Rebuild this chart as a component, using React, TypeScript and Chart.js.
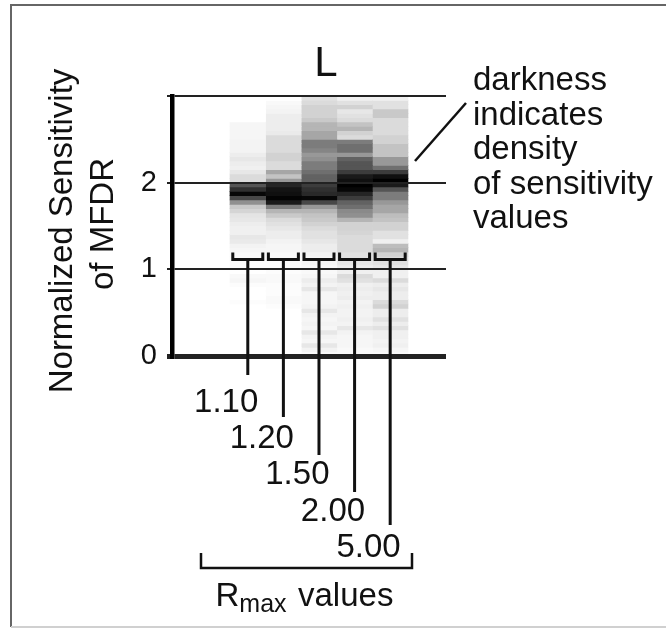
import React, { useEffect, useRef } from 'react';
import { Chart, registerables } from 'chart.js';

Chart.register(...registerables);

// ---------- data ----------
const rmaxLabels = ['1.10', '1.20', '1.50', '2.00', '5.00'];
const binStep = 0.05; // sensitivity bin height (bins from 0 to 3)
const yTickValues = [0, 1, 2, 3];
const annotationLines = ['darkness', 'indicates', 'density', 'of sensitivity', 'values'];

// darkness (0 = white, 1 = black) per bin, bin 0 = [0, 0.05] ... bin 59 = [2.95, 3.00]
const density110 = [
  0, 0, 0, 0, 0, 0, 0, 0, 0, 0,
  0, 0, 0.01, 0, 0, 0, 0.01, 0.03, 0.02, 0,
  0.01, 0.01, 0.02, 0.02, 0.03, 0.04, 0.07, 0.08, 0.05, 0.05,
  0.06, 0.08, 0.09, 0.14, 0.18, 0.38, 0.65, 0.95, 0.75, 0.6,
  0.12, 0.12, 0.08, 0.05, 0.06, 0.08, 0.06, 0.04, 0.04, 0.04,
  0.03, 0.03, 0.03, 0.03, 0, 0, 0, 0, 0, 0,
];
const density120 = [
  0, 0, 0, 0, 0, 0, 0, 0, 0, 0,
  0, 0.01, 0.02, 0.02, 0.01, 0.01, 0.01, 0.02, 0.02, 0.01,
  0.01, 0.01, 0.02, 0.02, 0.03, 0.03, 0.04, 0.06, 0.06, 0.08,
  0.1, 0.12, 0.18, 0.25, 0.45, 0.85, 0.97, 0.9, 0.88, 0.8,
  0.35, 0.2, 0.3, 0.12, 0.12, 0.15, 0.15, 0.12, 0.12, 0.12,
  0.12, 0.07, 0.06, 0.06, 0.06, 0.06, 0.04, 0.03, 0.02, 0,
];
const density150 = [
  0.02, 0.04, 0.08, 0.03, 0.04, 0.08, 0.03, 0.04, 0.03, 0.04,
  0.08, 0.04, 0.03, 0.03, 0.03, 0.08, 0.04, 0.06, 0.03, 0.02,
  0.02, 0.03, 0.03, 0.04, 0.06, 0.06, 0.08, 0.1, 0.1, 0.12,
  0.15, 0.18, 0.2, 0.25, 0.35, 0.65, 0.95, 0.78, 0.75, 0.7,
  0.55, 0.55, 0.5, 0.45, 0.45, 0.38, 0.35, 0.42, 0.45, 0.45,
  0.3, 0.3, 0.25, 0.25, 0.18, 0.15, 0.15, 0.15, 0.12, 0.1,
];
const density200 = [
  0.02, 0.02, 0.03, 0.03, 0.03, 0.04, 0.08, 0.04, 0.05, 0.04,
  0.04, 0.05, 0.04, 0.06, 0.05, 0.06, 0.05, 0.1, 0.12, 0.05,
  0.06, 0.08, 0.1, 0.1, 0.12, 0.12, 0.12, 0.12, 0.14, 0.15,
  0.15, 0.25, 0.38, 0.4, 0.5, 0.55, 0.7, 0.8, 0.95, 1.0,
  0.9, 0.85, 0.7, 0.6, 0.6, 0.55, 0.35, 0.5, 0.5, 0.45,
  0.12, 0.15, 0.25, 0.2, 0.12, 0.1, 0.08, 0.15, 0.1, 0.05,
];
const density500 = [
  0.02, 0.03, 0.05, 0.04, 0.05, 0.05, 0.1, 0.06, 0.1, 0.06,
  0.06, 0.15, 0.12, 0.06, 0.06, 0.08, 0.06, 0.12, 0.05, 0.05,
  0.08, 0.1, 0.12, 0.15, 0.25, 0.22, 0.05, 0.1, 0.1, 0.15,
  0.15, 0.2, 0.22, 0.3, 0.3, 0.35, 0.45, 0.45, 0.6, 0.85,
  1.0, 0.9, 0.7, 0.5, 0.35, 0.35, 0.2, 0.2, 0.2, 0.15,
  0.15, 0.12, 0.12, 0.12, 0.12, 0.18, 0.18, 0.1, 0.1, 0.05,
];
const densities = [density110, density120, density150, density200, density500];

// ---------- styling / layout ----------
const FONT = '"Liberation Sans", Arial, Helvetica, sans-serif';
const INK = '#111';
const leaderEndY = [375, 417, 455, 492, 525];

function gray(d: number): string {
  const c = Math.max(0, Math.min(1, d));
  const v = Math.round(255 * Math.pow(1 - c, 1.2));
  return `rgb(${v},${v},${v})`;
}

const annotations = {
  id: 'annotations',
  afterDraw(chart: any) {
    const ctx: CanvasRenderingContext2D = chart.ctx;
    const xs = chart.scales.x;
    ctx.save();

    // frame
    ctx.lineWidth = 2;
    ctx.strokeStyle = '#666';
    ctx.beginPath();
    ctx.moveTo(680, 5);
    ctx.lineTo(11, 5);
    ctx.lineTo(11, 627);
    ctx.stroke();
    ctx.strokeStyle = '#d0d0d0';
    ctx.beginPath();
    ctx.moveTo(11, 627);
    ctx.lineTo(680, 627);
    ctx.stroke();

    ctx.fillStyle = INK;
    ctx.textBaseline = 'alphabetic';

    // title
    ctx.font = `42px ${FONT}`;
    ctx.textAlign = 'center';
    ctx.fillText('L', 326, 76);

    // y-axis title (two lines, rotated)
    ctx.font = `33px ${FONT}`;
    ctx.save();
    ctx.translate(72, 231);
    ctx.rotate(-Math.PI / 2);
    ctx.fillText('Normalized Sensitivity', 0, 0);
    ctx.restore();
    ctx.save();
    ctx.translate(113, 224);
    ctx.rotate(-Math.PI / 2);
    ctx.fillText('of MFDR', 0, 0);
    ctx.restore();

    // side annotation
    ctx.textAlign = 'left';
    annotationLines.forEach((t, i) => ctx.fillText(t, 473, 90 + 34.5 * i));
    ctx.strokeStyle = INK;
    ctx.lineWidth = 2.5;
    ctx.beginPath();
    ctx.moveTo(415, 161);
    ctx.lineTo(466, 103);
    ctx.stroke();

    // brackets, leaders and Rmax labels
    const yb = 259.5;
    ctx.lineWidth = 3;
    ctx.textAlign = 'right';
    rmaxLabels.forEach((lab, i) => {
      const cx = xs.getPixelForValue(i + 1);
      ctx.beginPath();
      ctx.moveTo(cx - 15, 252.5);
      ctx.lineTo(cx - 15, yb);
      ctx.lineTo(cx + 15, yb);
      ctx.lineTo(cx + 15, 252.5);
      ctx.stroke();
      ctx.beginPath();
      ctx.moveTo(cx, yb);
      ctx.lineTo(cx, leaderEndY[i]);
      ctx.stroke();
      ctx.fillText(lab, cx + 10.5, 412 + 36.2 * i);
    });

    // bottom bracket
    ctx.lineWidth = 2.5;
    ctx.beginPath();
    ctx.moveTo(201, 553);
    ctx.lineTo(201, 568);
    ctx.lineTo(412, 568);
    ctx.lineTo(412, 553);
    ctx.stroke();

    // R_max values
    ctx.textAlign = 'left';
    ctx.font = `33px ${FONT}`;
    ctx.fillText('R', 215.5, 606);
    const rw = ctx.measureText('R').width;
    ctx.font = `25px ${FONT}`;
    ctx.fillText('max', 215.5 + rw, 612);
    ctx.font = `33px ${FONT}`;
    ctx.fillText('values', 298, 606);

    ctx.restore();
  },
};

export default function App() {
  const canvasRef = useRef<HTMLCanvasElement | null>(null);

  useEffect(() => {
    if (!canvasRef.current) return;
    const chart = new Chart(canvasRef.current, {
      type: 'bar',
      data: {
        datasets: densities.map((d, i) => ({
          label: 'Rmax ' + rmaxLabels[i],
          data: d.map((_, k) => ({ x: i + 1, y: [k * binStep, (k + 1) * binStep] })),
          backgroundColor: d.map(gray),
          borderWidth: 0,
          grouped: false,
          categoryPercentage: 1,
          barPercentage: 1,
        })) as any,
      },
      options: {
        animation: false,
        responsive: true,
        maintainAspectRatio: false,
        layout: { padding: { left: 0, top: 96, right: 220, bottom: 272 } },
        plugins: {
          legend: { display: false },
          tooltip: { enabled: false },
          title: { display: false },
        },
        scales: {
          x: {
            type: 'linear',
            display: false,
            offset: false,
            min: -1.129,
            max: 6.568,
          },
          y: {
            type: 'linear',
            min: yTickValues[0],
            max: yTickValues[yTickValues.length - 1],
            afterFit: (s: any) => {
              s.width = 172;
            },
            afterBuildTicks: (s: any) => {
              s.ticks = yTickValues.map((v) => ({ value: v }));
            },
            ticks: {
              callback: (v: any) => (Number(v) === 3 ? '' : String(v)),
              font: { family: FONT, size: 29 },
              color: INK,
              padding: 10,
            },
            grid: {
              z: 1,
              color: '#222',
              lineWidth: (c: any) => (c.tick && c.tick.value === 0 ? 5 : 2),
              tickLength: 5,
              drawTicks: true,
            },
            border: { display: true, color: '#000', width: 4.5, z: 2 },
          },
        } as any,
      },
      plugins: [annotations],
    });
    return () => chart.destroy();
  }, []);

  return (
    <div style={{ position: 'fixed', left: 0, top: 0, width: 666, height: 628, background: '#fff' }}>
      <canvas ref={canvasRef} />
    </div>
  );
}
